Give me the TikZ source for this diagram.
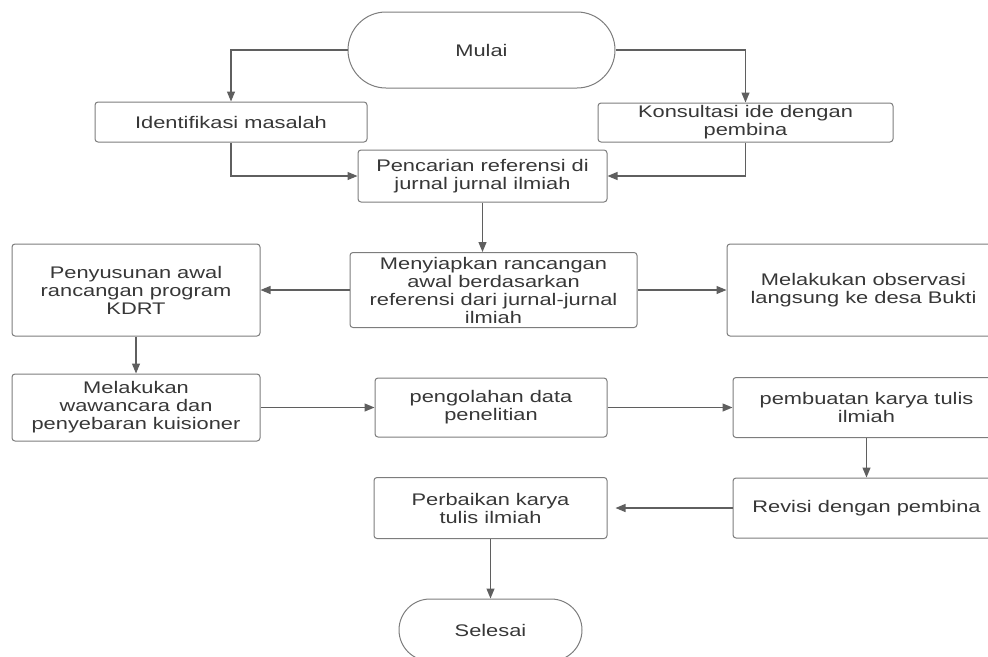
\documentclass[tikz,border=0pt]{standalone}
\usepackage{fontspec}
\setmainfont{Liberation Sans}[FakeStretch=1.3]
\usepackage{tikz}
\usetikzlibrary{positioning, arrows.meta}

\definecolor{boxline}{RGB}{125,125,125}
\definecolor{arrline}{RGB}{95,95,95}
\definecolor{txtgray}{RGB}{55,55,55}

\tikzset{
  box/.style={draw=boxline, line width=1pt, rounded corners=3pt, align=center,
    text=txtgray, inner sep=2pt, font=\fontsize{16.8}{18}\selectfont},
  terminal/.style={box, rounded corners=#1},
  arr/.style={draw=arrline, line width=1.2pt, -{Triangle[length=10pt,width=8pt]}}
}

\begin{document}
\begin{tikzpicture}[x=1pt,y=-1pt]
\useasboundingbox (0,0) rectangle (988,656);

% draw boxes
\node[terminal=38pt, minimum width=267pt, minimum height=76pt] (mulai) at (481.5,50) {Mulai};
\node[box, minimum width=272pt, minimum height=40pt] (ident) at (231,122) {Identifikasi masalah};
\node[box, minimum width=295pt, minimum height=39pt] (konsul) at (745.5,122.5) {Konsultasi ide dengan\\pembina};
\node[box, minimum width=249pt, minimum height=52pt] (cari) at (482.5,176) {Pencarian referensi di\\jurnal jurnal ilmiah};

\node[box, minimum width=287pt, minimum height=75pt] (siap) at (493.5,290) {Menyiapkan rancangan\\awal berdasarkan\\referensi dari jurnal-jurnal\\ilmiah};
\node[box, minimum width=248pt, minimum height=92pt] (susun) at (136,290) {Penyusunan awal\\rancangan program\\KDRT};
\node[box, minimum width=273pt, minimum height=92pt] (obs) at (863.5,290) {Melakukan observasi\\langsung ke desa Bukti};

\node[box, minimum width=248pt, minimum height=67pt] (wawan) at (136,407.5) {Melakukan\\wawancara dan\\penyebaran kuisioner};
\node[box, minimum width=232pt, minimum height=59pt] (olah) at (491,407.5) {pengolahan data\\penelitian};
\node[box, minimum width=267pt, minimum height=60pt] (buat) at (866.5,407.5) {pembuatan karya tulis\\ilmiah};

\node[box, minimum width=267pt, minimum height=60pt] (revisi) at (866.5,508) {Revisi dengan pembina};
\node[box, minimum width=233pt, minimum height=61pt] (perbaik) at (490.5,508) {Perbaikan karya\\tulis ilmiah};
\node[terminal=31pt, minimum width=183pt, minimum height=62pt] (selesai) at (490.5,630) {Selesai};

% draw arrows
\draw[arr] (mulai.west) -| (ident.north);
\draw[arr] (mulai.east) -| (konsul.north);
\draw[arr] (ident.south) |- (cari.west);
\draw[arr] (konsul.south) |- (cari.east);
\draw[arr] (cari.south) -- (cari.south |- siap.north);

\foreach \a/\b in {siap/susun,siap/obs,susun/wawan,wawan/olah,olah/buat,buat/revisi,perbaik/selesai}
\draw[arr] (\a) -- (\b);
\draw[arr, shorten >=8pt] (revisi) -- (perbaik);
\end{tikzpicture}
\end{document}
